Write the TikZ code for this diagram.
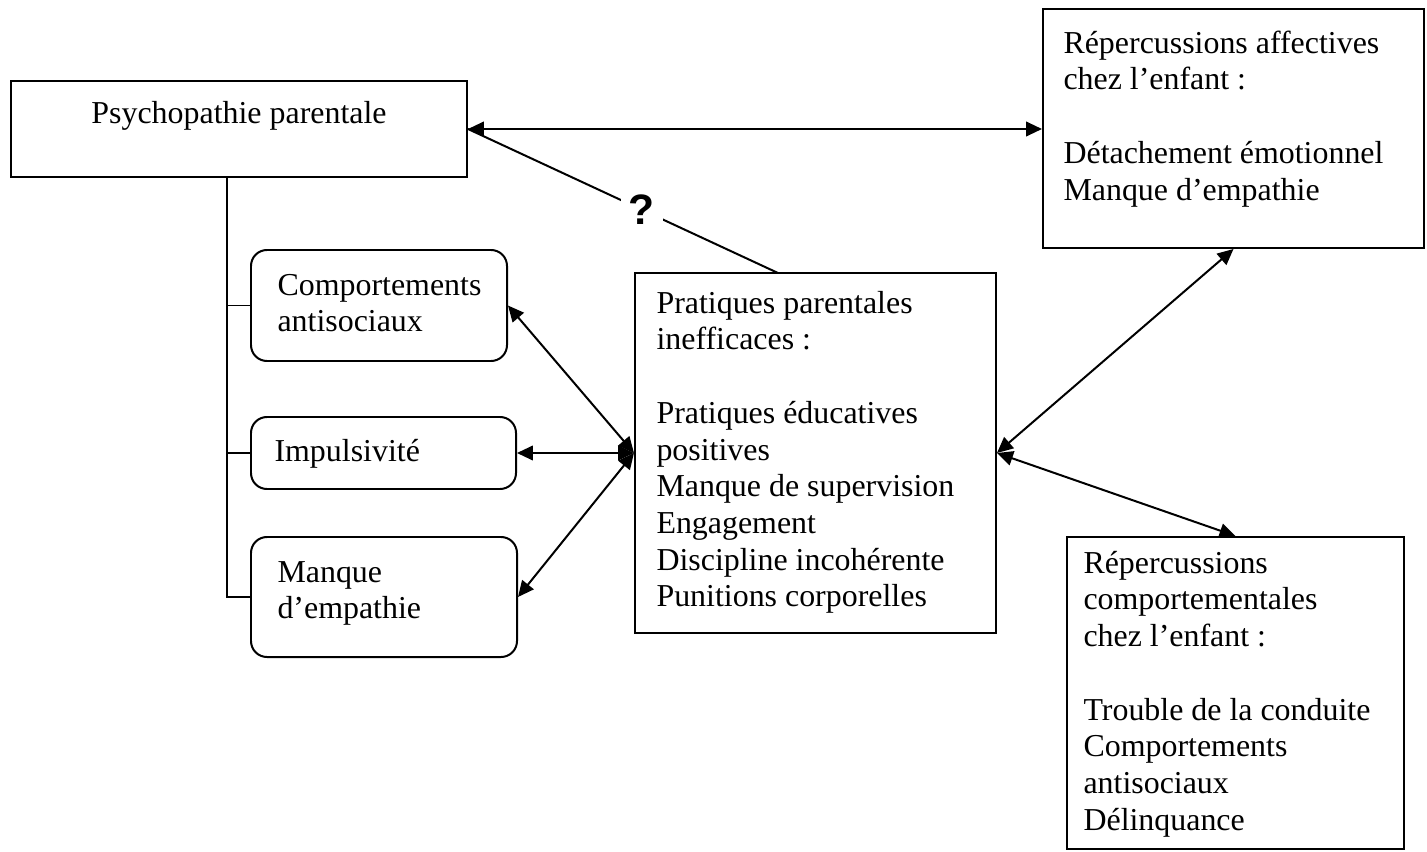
\documentclass[tikz,border=0pt]{standalone}
\usepackage{fontspec}
\setmainfont{Liberation Serif}
\newfontfamily\qfont{Liberation Sans}
\usetikzlibrary{fit,arrows.meta}
\begin{document}
\begin{tikzpicture}[x=0.376pt,y=-0.376pt,
  box/.style={draw,line width=0.75pt,inner sep=0pt},
  rbox/.style={box,rounded corners=6pt},
  txt/.style={inner sep=0pt,align=left,anchor=north west,font=\fontsize{12}{13.8}\selectfont},
  link/.style={line width=0.75pt},
  arr/.style={link,{Triangle[length=6pt,width=5.5pt]}-{Triangle[length=6pt,width=5.5pt]}},
  ]
\useasboundingbox (0,0) rectangle (1427,852);
% boxes
\node[box,fit={(11,81) (467,177)}] (psy) {};
\node[rbox,fit={(251,250) (507,361)}] (comp) {};
\node[rbox,fit={(251,417) (516,489)}] (imp) {};
\node[rbox,fit={(251,537) (517,657)}] (manq) {};
\node[box,fit={(635,273) (996,633)}] (prat) {};
\node[box,fit={(1043,9) (1424,248)}] (aff) {};
\node[box,fit={(1067,537) (1404,849)}] (beh) {};
% texts
\node[txt,anchor=north,align=center] (psyT) at (239,97) {\strut Psychopathie parentale};
\node[txt] (compT) at (277,269) {\strut Comportements\\antisociaux};
\node[txt] (impT) at (274,435) {\strut Impulsivité};
\node[txt] (manqT) at (277,556) {\strut Manque\\d’empathie};
\node[txt] (pratT) at (656,287) {\strut Pratiques parentales\\inefficaces :\\\strut\\Pratiques éducatives\\positives\\Manque de supervision\\Engagement\\Discipline incohérente\\Punitions corporelles};
\node[txt] (affT) at (1063,27) {\strut Répercussions affectives\\chez l’enfant :\\\strut\\Détachement émotionnel\\Manque d’empathie};
\node[txt] (behT) at (1083,547) {\strut Répercussions\\comportementales\\chez l’enfant :\\\strut\\Trouble de la conduite\\Comportements\\antisociaux\\Délinquance};
% trunk
\coordinate (tr) at (227,0);
\draw[link] (psy.south -| tr) |- (manq.west);
\draw[link] (tr |- comp.west) -- (comp.west);
\draw[link] (tr |- imp.west) -- (imp.west);
% question link
\coordinate (qe) at (778,273);
\draw[link] (psy.east) -- node[pos=0.56,fill=white,inner sep=3pt,font=\qfont\bfseries\fontsize{16}{16}\selectfont] (qm) {?} (qe);
% arrows
\draw[arr] (psy.east) -- (psy.east -| aff.west);
\draw[arr] (comp.east) -- (prat.west);
\draw[arr] (imp.east) -- (prat.west);
\draw[arr] (manq.east) -- (prat.west);
\draw[arr] (prat.east) -- (aff.south);
\draw[arr] (prat.east) -- (beh.north);
\end{tikzpicture}
\end{document}
